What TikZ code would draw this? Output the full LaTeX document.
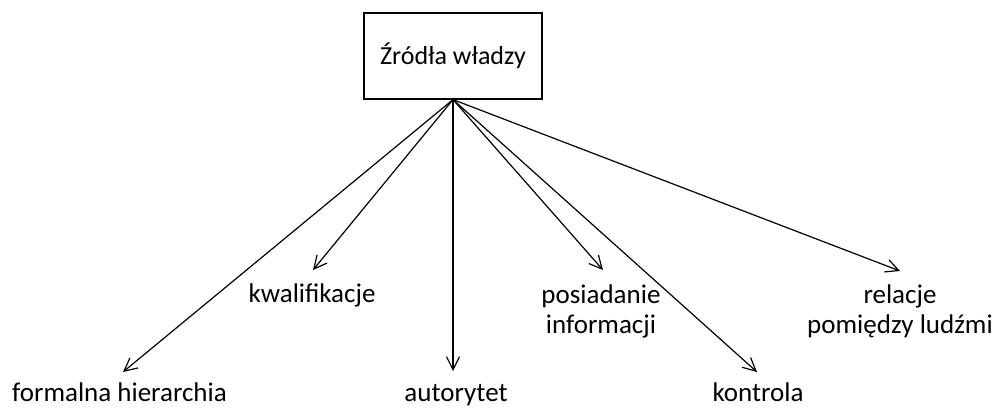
\documentclass[tikz,border=0pt]{standalone}
\usepackage{fontspec}
\setmainfont{Carlito}
\usetikzlibrary{arrows.meta}
\tikzset{
  srcbox/.style={draw, line width=1.2pt, minimum width=178pt, minimum height=86pt, inner sep=0pt, font=\fontsize{26}{30}\selectfont},
  lbl/.style={anchor=base, inner sep=0pt, align=center, font=\fontsize{27}{30}\selectfont},
  arr/.style={line width=1.2pt, -{Straight Barb[length=13pt,width=13pt,line width=1.2pt]}}
}
\begin{document}
\begin{tikzpicture}[x=1pt,y=1pt]
\useasboundingbox (0,0) rectangle (998,408);
\node[srcbox] (src) at (453,352) {Źródła władzy};
\node[lbl] (formalna) at (119.5,7) {formalna hierarchia};
\node[lbl] (kwal) at (312,106) {kwalifikacje};
\node[lbl] (autor) at (456,7) {autorytet};
\node[lbl] (posiad) at (601,75) {posiadanie\\informacji};
\node[lbl] (kontr) at (758,7) {kontrola};
\node[lbl] (relacje) at (900,75) {relacje\\pomiędzy ludźmi};
\coordinate (tf) at (123,36);
\coordinate (tk) at (313,138);
\coordinate (ta) at (453,37);
\coordinate (tp) at (603,138);
\coordinate (tn) at (757,36);
\coordinate (tr) at (900,137);
\draw[arr] (src.south) -- (tf);
\draw[arr] (src.south) -- (tk);
\draw[arr] (src.south) -- (ta);
\draw[arr] (src.south) -- (tp);
\draw[arr] (src.south) -- (tn);
\draw[arr] (src.south) -- (tr);
\end{tikzpicture}
\end{document}
